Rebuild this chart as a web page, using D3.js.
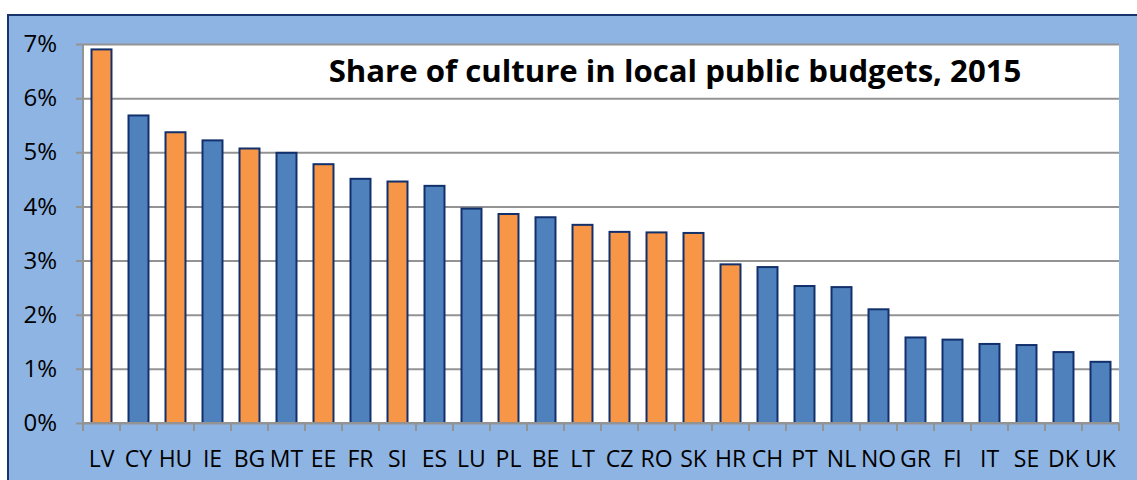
<!DOCTYPE html>
<html><head><meta charset="utf-8">
<script src="https://cdn.jsdelivr.net/npm/d3@7"></script>
<style>html,body{margin:0;padding:0;background:#fff;}svg{display:block;}</style>
</head><body>
<svg id="c" width="1137" height="480"></svg>
<script>
const categories = ["LV","CY","HU","IE","BG","MT","EE","FR","SI","ES","LU","PL","BE","LT","CZ","RO","SK","HR","CH","PT","NL","NO","GR","FI","IT","SE","DK","UK"];
const values = [6.90,5.68,5.37,5.22,5.07,4.99,4.78,4.51,4.46,4.38,3.96,3.86,3.80,3.66,3.53,3.52,3.51,2.93,2.88,2.53,2.51,2.10,1.58,1.54,1.46,1.44,1.31,1.13];
const highlighted = ["LV","HU","BG","EE","SI","PL","LT","CZ","RO","SK","HR"];
const yTicks = [0,1,2,3,4,5,6,7];
const title = "Share of culture in local public budgets, 2015";

const svg = d3.select("#c");
const font = "'Open Sans', sans-serif";

// outer frame
svg.append("rect").attr("x",8).attr("y",15).attr("width",1140).attr("height",480)
  .attr("fill","#8EB4E3").attr("stroke","#17336b").attr("stroke-width",2);

const L = 83, R = 1119, T = 44, B = 423;
const x = d3.scaleBand().domain(categories).range([L,R]).paddingInner(0.46).paddingOuter(0.23);
const y = d3.scaleLinear().domain([0,7]).range([B,T]);

svg.append("rect").attr("x",L).attr("y",T).attr("width",R-L).attr("height",B-T).attr("fill","#fff");

// gridlines
const yAxis = d3.axisLeft(y).tickValues(yTicks).tickFormat(d=>d+"%").tickSize(-(R-L)).tickSizeOuter(0).tickPadding(26);
const gy = svg.append("g").attr("transform",`translate(${L},0)`).call(yAxis);
gy.select(".domain").remove();
gy.selectAll(".tick line").attr("stroke","#939393").attr("stroke-width",2).attr("x1",-7);
gy.selectAll(".tick text").attr("font-family",font).attr("font-size",24).attr("fill","#000");
svg.append("line").attr("x1",L).attr("x2",L).attr("y1",T).attr("y2",B).attr("stroke","#939393").attr("stroke-width",2);

// bars
svg.append("g").selectAll("rect").data(categories).join("rect")
  .attr("x",d=>x(d)).attr("width",x.bandwidth())
  .attr("y",(d,i)=>y(values[i])).attr("height",(d,i)=>B-y(values[i]))
  .attr("fill",d=>highlighted.includes(d)?"#F79646":"#4F81BD")
  .attr("stroke","#12306b").attr("stroke-width",2);

// x axis
const step = x.step();
const gx = svg.append("g").attr("transform",`translate(0,${B})`);
gx.append("line").attr("x1",L).attr("x2",R).attr("stroke","#939393").attr("stroke-width",2);
const bounds = d3.range(categories.length+1).map(i=>L+i*step);
gx.selectAll("line.tk").data(bounds).join("line").attr("class","tk")
  .attr("x1",d=>d).attr("x2",d=>d).attr("y1",0).attr("y2",8).attr("stroke","#939393").attr("stroke-width",2);
gx.selectAll("text").data(categories).join("text")
  .attr("x",d=>x(d)+x.bandwidth()/2).attr("y",44)
  .attr("text-anchor","middle").attr("font-family",font).attr("font-size",23).attr("fill","#000")
  .text(d=>d);

// title
const t = svg.append("text").attr("x",675).attr("y",82).attr("text-anchor","middle")
  .attr("font-family",font).attr("font-weight","bold").attr("font-size",29).attr("fill","#000").text(title);
const w = t.node().getComputedTextLength();
if (w > 0) t.attr("font-size", 29*693/w);
</script>
</body></html>
